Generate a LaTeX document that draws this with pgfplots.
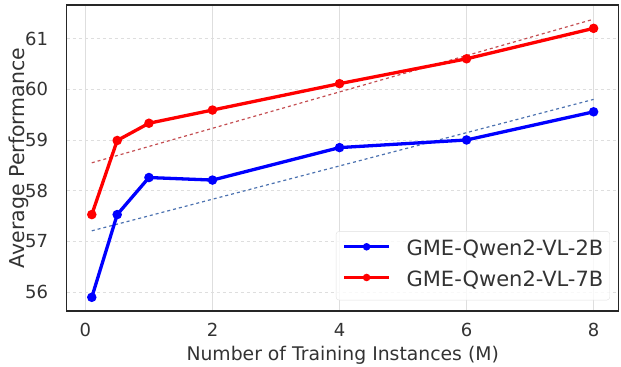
\documentclass[border=0pt]{standalone}
\usepackage{pgfplots}
\pgfplotsset{compat=1.18}
\usepackage{fontspec}
\setmainfont{DejaVu Sans}
\definecolor{txt}{gray}{0.2}
\definecolor{dblue}{HTML}{4C72B0}
\definecolor{dred}{HTML}{C44E52}
\begin{document}
\begin{tikzpicture}
\begin{axis}[
 scale only axis, width=552pt, height=306pt,
 xmin=-0.295, xmax=8.395, ymin=55.63, ymax=61.66,
 xtick={0,2,4,6,8}, ytick={56,57,58,59,60,61},
 tick style={draw=none},
 /pgf/number format/assume math mode=true,
 ticklabel style={font=\fontsize{18}{20}\selectfont, text=txt, inner sep=0pt},
 xticklabel style={anchor=north, yshift=-12pt},
 yticklabel style={anchor=east, xshift=-18.5pt},
 xlabel={Number of Training Instances (M)},
 ylabel={Average Performance},
 xlabel style={font=\fontsize{18.8}{20}\selectfont, text=txt, inner sep=0pt,
   at={(axis description cs:0.5,-0.161)}, anchor=base},
 ylabel style={font=\fontsize{20.5}{22}\selectfont, text=txt, inner sep=0pt,
   at={(axis description cs:-0.0683,0.5)}, anchor=south},
 grid=major,
 x grid style={black!13, line width=0.8pt},
 y grid style={black!13, dashed, line width=0.8pt},
 axis line style={black!85, line width=1.2pt},
 legend style={font=\fontsize{21}{25}\selectfont, text=txt, draw=black!12, rounded corners=3pt,
   fill=white, fill opacity=0.8, text opacity=1, at={(0.9842,0.035)}, anchor=south east,
   row sep=11.7pt, inner xsep=6.5pt, inner ysep=9.5pt,
   nodes={inner sep=0pt, text height=15pt, text depth=4pt},
   column sep=0pt},
 legend cell align=left,
 legend image code/.code={
   \draw[#1, line width=3pt] (0pt,0.36em) -- (45pt,0.36em);
   \draw[#1, mark size=2pt] plot coordinates {(22.5pt,0.36em)};
 },
]
\addplot[dblue, dashed, line width=1.2pt, forget plot] coordinates {(0.1,57.21) (8,59.80)};
\addplot[dred, dashed, line width=1.2pt, forget plot] coordinates {(0.1,58.55) (8,61.38)};
\addplot[blue, line width=3.3pt, mark=*, mark size=3pt] coordinates {
 (0.1,55.90) (0.5,57.53) (1,58.26) (2,58.21) (4,58.85) (6,59.00) (8,59.555)};
\addlegendentry{\hspace{16pt}GME-Qwen2-VL-2B}
\addplot[red, line width=3.3pt, mark=*, mark size=3pt] coordinates {
 (0.1,57.53) (0.5,58.99) (1,59.33) (2,59.59) (4,60.11) (6,60.60) (8,61.20)};
\addlegendentry{\hspace{16pt}GME-Qwen2-VL-7B}
\end{axis}
\path[use as bounding box] ([xshift=-66.7pt,yshift=-55.3pt]current axis.south west) rectangle ([xshift=2.3pt,yshift=5pt]current axis.north east);
\end{tikzpicture}
\end{document}
